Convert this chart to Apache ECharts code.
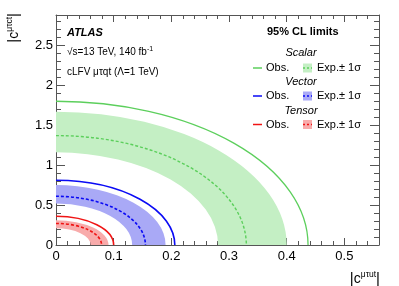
<!DOCTYPE html>
<html><head><meta charset="utf-8">
<script src="https://cdn.jsdelivr.net/npm/echarts@6/dist/echarts.min.js"></script>
<style>html,body{margin:0;padding:0;background:#fff}#c{width:399px;height:286px}</style>
</head><body><div id="c"></div>
<script>
// Tick labels
const xTickLabels = [0, 0.1, 0.2, 0.3, 0.4, 0.5];
const yTickLabels = [0, 0.5, 1, 1.5, 2, 2.5];
// 95% CL limits: semi-axes [|c^{μτut}| intercept, |c^{μτct}| intercept]
const scalarObs = [0.437, 1.80];
const scalarExp = [0.330, 1.37];
const scalarBand = [0.400, 1.67, 0.281, 1.16]; // outer a,b ; inner a,b
const vectorObs = [0.206, 0.81];
const vectorExp = [0.155, 0.61];
const vectorBand = [0.190, 0.75, 0.132, 0.52];
const tensorObs = [0.100, 0.36];
const tensorExp = [0.079, 0.27];
const tensorBand = [0.091, 0.31, 0.060, 0.21];

const FONT = 'Liberation Sans';
const C = {
  sLine: '#5ccf5c', sBand: '#c4efc4',
  vLine: '#0a0af5', vBand: '#a9a9f6',
  tLine: '#f01414', tBand: '#f8abab'
};

function ellipseLine(semi, color, width, dash) {
  return {
    type: 'custom', coordinateSystem: 'cartesian2d', xAxisIndex: 0, yAxisIndex: 0,
    data: [semi], silent: true, clip: true,
    renderItem: function (params, api) {
      const o = api.coord([0, 0]);
      const s = api.size([api.value(0), api.value(1)]);
      const rx = s[0], ry = s[1];
      const d = 'M ' + o[0] + ' ' + (o[1] - ry) + ' A ' + rx + ' ' + ry + ' 0 0 1 ' + (o[0] + rx) + ' ' + o[1];
      return { type: 'path', shape: { pathData: d },
        style: { fill: 'none', stroke: color, lineWidth: width, lineDash: dash || null } };
    }
  };
}
function ellipseBand(band, color) {
  return {
    type: 'custom', coordinateSystem: 'cartesian2d', xAxisIndex: 0, yAxisIndex: 0,
    data: [band], silent: true, clip: true,
    renderItem: function (params, api) {
      const o = api.coord([0, 0]);
      const so = api.size([api.value(0), api.value(1)]);
      const si = api.size([api.value(2), api.value(3)]);
      const d = 'M ' + o[0] + ' ' + (o[1] - so[1]) +
        ' A ' + so[0] + ' ' + so[1] + ' 0 0 1 ' + (o[0] + so[0]) + ' ' + o[1] +
        ' L ' + (o[0] + si[0]) + ' ' + o[1] +
        ' A ' + si[0] + ' ' + si[1] + ' 0 0 0 ' + o[0] + ' ' + (o[1] - si[1]) + ' Z';
      return { type: 'path', shape: { pathData: d }, style: { fill: color, stroke: null } };
    }
  };
}

const axisColor = '#555';
function xAx(pos, labels) {
  return {
    type: 'value', min: 0, max: 0.56, interval: 0.1, position: pos,
    axisLine: { show: true, onZero: false, lineStyle: { color: axisColor, width: 1 } },
    axisTick: { show: true, inside: true, length: 7, lineStyle: { color: axisColor } },
    minorTick: { show: true, splitNumber: 5, length: 4, lineStyle: { color: axisColor } },
    splitLine: { show: false },
    axisLabel: { show: labels, color: '#000', fontSize: 13, fontFamily: FONT, margin: 5,
      showMaxLabel: false,
      formatter: function (v) { return xTickLabels.some(t => Math.abs(t - v) < 1e-9) ? String(v) : ''; } }
  };
}
function yAx(pos, labels) {
  return {
    type: 'value', min: 0, max: 2.88, interval: 0.5, position: pos,
    axisLine: { show: true, onZero: false, lineStyle: { color: axisColor, width: 1 } },
    axisTick: { show: true, inside: true, length: 9, lineStyle: { color: axisColor } },
    minorTick: { show: true, splitNumber: 5, length: 5, lineStyle: { color: axisColor } },
    splitLine: { show: false },
    axisLabel: { show: labels, color: '#000', fontSize: 13, fontFamily: FONT, margin: 3,
      showMaxLabel: false,
      formatter: function (v) { return yTickLabels.some(t => Math.abs(t - v) < 1e-9) ? String(v) : ''; } }
  };
}

function legendRow(y, line, band) {
  return [
    { type: 'line', shape: { x1: 253, y1: y, x2: 262, y2: y }, style: { stroke: line, lineWidth: 1.5 } },
    { type: 'text', x: 266, y: y, style: { text: 'Obs.', font: '11px "Liberation Sans"', fill: '#000', verticalAlign: 'middle' } },
    { type: 'rect', shape: { x: 303, y: y - 4.5, width: 9, height: 9 }, style: { fill: band } },
    { type: 'line', shape: { x1: 303, y1: y, x2: 312, y2: y }, style: { stroke: line, lineWidth: 1.5, lineDash: [2, 2] } },
    { type: 'text', x: 317, y: y, style: { text: 'Exp.\u00b1 1\u03c3', font: '11px "Liberation Sans"', fill: '#000', verticalAlign: 'middle' } }
  ];
}
function header(y, t) {
  return { type: 'text', x: 301, y: y, style: { text: t, font: 'italic 11px "Liberation Sans"', fill: '#000', align: 'center', verticalAlign: 'middle' } };
}

const supRich = {
  c: { fontSize: 14, fontFamily: FONT, lineHeight: 16, verticalAlign: 'bottom' },
  s: { fontSize: 8.5, fontFamily: FONT, lineHeight: 16, verticalAlign: 'top' },
  p: { fontSize: 15, fontFamily: FONT, lineHeight: 16, verticalAlign: 'bottom' }
};

const graphics = [
  { type: 'text', x: 67, y: 33, style: { text: 'ATLAS', font: 'italic bold 11px "Liberation Sans"', fill: '#000', verticalAlign: 'middle' } },
  { type: 'text', x: 67, y: 52, style: { text: '\u221as=13 TeV, 140 fb{u|-1}', fontFamily: FONT, fontSize: 10, fill: '#000', verticalAlign: 'middle',
      rich: { u: { fontSize: 7, fontFamily: FONT, verticalAlign: 'top', lineHeight: 12 } } } },
  { type: 'text', x: 67, y: 72, style: { text: 'cLFV \u03bc\u03c4qt (\u039b=1 TeV)', font: '10px "Liberation Sans"', fill: '#000', verticalAlign: 'middle' } },
  { type: 'text', x: 267, y: 32, style: { text: '95% CL limits', font: 'bold 11px "Liberation Sans"', fill: '#000', verticalAlign: 'middle' } },
  header(53, 'Scalar'), header(82, 'Vector'), header(111, 'Tensor'),
  ...legendRow(68, C.sLine, C.sBand),
  ...legendRow(96, C.vLine, C.vBand),
  ...legendRow(124.5, C.tLine, C.tBand),
  { type: 'text', x: 380, y: 278, style: { text: '{p||}{c|c}{s|\u03bc\u03c4ut}{p||}', fill: '#000', align: 'right', verticalAlign: 'middle', rich: supRich } },
  { type: 'text', x: 13.5, y: 13, rotation: Math.PI / 2, style: { text: '{p||}{c|c}{s|\u03bc\u03c4ct}{p||}', fill: '#000', align: 'right', verticalAlign: 'middle', rich: supRich } }
];

const chart = echarts.init(document.getElementById('c'), null, { renderer: 'canvas' });
chart.setOption({
  animation: false,
  backgroundColor: '#fff',
  grid: { left: 56, right: 20, top: 15, bottom: 41, containLabel: false },
  xAxis: [xAx('bottom', true), xAx('top', false)],
  yAxis: [yAx('left', true), yAx('right', false)],
  graphic: graphics,
  series: [
    ellipseBand(scalarBand, C.sBand),
    ellipseBand(vectorBand, C.vBand),
    ellipseBand(tensorBand, C.tBand),
    ellipseLine(scalarExp, C.sLine, 1.4, [3, 2]),
    ellipseLine(vectorExp, C.vLine, 1.6, [3, 2]),
    ellipseLine(tensorExp, C.tLine, 1.6, [3, 2]),
    ellipseLine(scalarObs, C.sLine, 1.3),
    ellipseLine(vectorObs, C.vLine, 1.6),
    ellipseLine(tensorObs, C.tLine, 1.6)
  ]
});
</script></body></html>
